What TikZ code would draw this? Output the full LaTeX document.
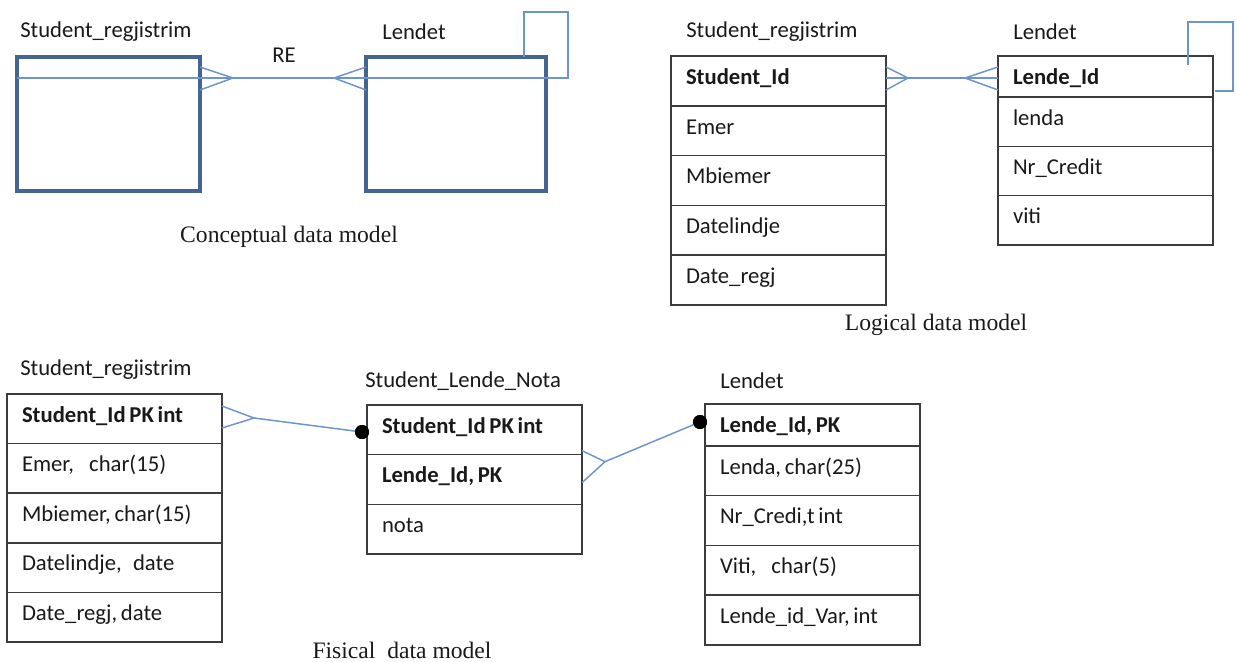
\documentclass[tikz,border=0pt]{standalone}
\usepackage{fontspec}
\setmainfont{Liberation Serif}
\newfontfamily\calibri{Carlito}
\usetikzlibrary{calc}
\definecolor{cbox}{RGB}{68,100,146}
\definecolor{conncol}{RGB}{108,148,205}
\definecolor{tline}{RGB}{60,60,60}
\definecolor{txt}{RGB}{25,25,25}
\begin{document}
\begin{tikzpicture}[x=0.75pt,y=-0.75pt,
  sans/.style={font=\calibri\fontsize{17}{20}\selectfont, text=txt},
  title/.style={sans, anchor=west, inner sep=0pt},
  caption/.style={font=\fontsize{17.7}{20}\selectfont, text=txt, inner sep=0pt},
  cbx/.style={draw=cbox, line width=3pt, anchor=north west, inner sep=0pt, outer sep=0pt},
  row/.style={sans, draw=tline, line width=1.1pt, anchor=north west, outer sep=0pt,
    text width=138.75pt, inner xsep=11.25pt, inner ysep=0pt, align=left,
    text height=12pt, text depth=7pt},
  shortrow/.style={row, text height=14pt, text depth=2.3pt},
  conn/.style={draw=conncol, line width=1.1pt, line join=miter},
  dot/.style={circle, fill=black, inner sep=0pt, minimum size=10.5pt}
]
\useasboundingbox (0,0) rectangle (1237,661);

% ---------- Conceptual ----------
\node[title] (ctsr) at (20,32) {Student\_regjistrim};
\node[title] (ctl) at (382,32) {Lendet};
\node[cbx, minimum width=137.25pt, minimum height=100.5pt] (cs) at (17,57) {};
\node[cbx, minimum width=135pt, minimum height=100.5pt] (cl) at (366,57) {};
\node[sans, inner sep=0pt] (re) at (284,55) {RE};
\draw[conn] ($(cs.north west)+(0,21)$) -- ($(cl.north east)+(22,21)$)
  -- ($(cl.north east)+(22,-45)$) -- ($(cl.north east)+(-22,-45)$)
  -- ($(cl.north east)+(-22,0)$);
\draw[conn] ($(cs.north east)+(0,10)$) -- ($(cs.north east)+(33,21)$) -- ($(cs.north east)+(0,33)$);
\draw[conn] ($(cl.north west)+(0,10)$) -- ($(cl.north west)+(-32,21)$) -- ($(cl.north west)+(0,33)$);
\node[caption] (capc) at (289,237) {Conceptual data model};

% ---------- Logical ----------
\node[title] (ltsr) at (686,32) {Student\_regjistrim};
\node[title] (ltl) at (1013,32) {Lendet};
\node[row, minimum height=37.35pt] (lsid) at (671,56) {\textbf{Student\_Id}};
\node[row, minimum height=37.35pt] (lsem) at (lsid.south west) {Emer};
\node[row, minimum height=37.35pt] (lsmb) at (lsem.south west) {Mbiemer};
\node[row, minimum height=37.35pt] (lsdl) at (lsmb.south west) {Datelindje};
\node[row, minimum height=37.35pt] (lsdr) at (lsdl.south west) {Date\_regj};
\node[shortrow, minimum height=30.75pt] (llid) at (998,56) {\textbf{Lende\_Id}};
\node[row, minimum height=37pt] (llle) at (llid.south west) {lenda};
\node[row, minimum height=37pt] (llnc) at (llle.south west) {Nr\_Credit};
\node[row, minimum height=37pt] (llvi) at (llnc.south west) {viti};
\draw[conn] ($(lsid.north east)+(0,22)$) -- ($(llid.north west)+(0,22)$);
\draw[conn] ($(lsid.north east)+(0,11)$) -- ($(lsid.north east)+(22,22)$) -- ($(lsid.north east)+(0,34)$);
\draw[conn] ($(llid.north west)+(0,11)$) -- ($(llid.north west)+(-33,22)$) -- ($(llid.north west)+(0,34)$);
\draw[conn] ($(llid.north east)+(-25,9)$) -- ($(llid.north east)+(-25,-34)$)
  -- ($(llid.north east)+(20,-34)$) -- ($(llid.north east)+(20,35)$)
  -- ($(llid.north east)+(2,35)$);
\node[caption] (capl) at (936,325) {Logical data model};

% ---------- Fisical ----------
\node[title] (ftsr) at (20,370) {Student\_regjistrim};
\node[title] (ftsn) at (365,381) {Student\_Lende\_Nota};
\node[title] (ftl) at (720,381) {Lendet};
\node[row, minimum height=37.2pt] (fsid) at (7,394) {\textbf{Student\_Id\,PK\,int}};
\node[row, minimum height=37.2pt] (fsem) at (fsid.south west) {Emer,\ \ char(15)};
\node[row, minimum height=37.2pt] (fsmb) at (fsem.south west) {Mbiemer,\,char(15)};
\node[row, minimum height=37.2pt] (fsdl) at (fsmb.south west) {Datelindje,\ \,date};
\node[row, minimum height=37.2pt] (fsdr) at (fsdl.south west) {Date\_regj,\,date};
\node[row, minimum height=37.25pt] (snid) at (367,405) {\textbf{Student\_Id\,PK\,int}};
\node[row, minimum height=37.25pt] (snlid) at (snid.south west) {\textbf{Lende\_Id,\,PK}};
\node[row, minimum height=37.25pt] (snno) at (snlid.south west) {nota};
\node[shortrow, minimum height=31.5pt] (flid) at (705,404) {\textbf{Lende\_Id,\,PK}};
\node[row, minimum height=37.3pt] (flle) at (flid.south west) {Lenda,\,char(25)};
\node[row, minimum height=37.3pt] (flnc) at (flle.south west) {Nr\_Credi,t\,int};
\node[row, minimum height=37.3pt] (flvi) at (flnc.south west) {Viti,\ \ char(5)};
\node[row, minimum height=37.3pt] (flvar) at (flvi.south west) {Lende\_id\_Var,\,int};
% connector 1
\coordinate (t1) at ($(fsid.north east)+(32,24)$);
\node[dot] (d1) at ($(snid.north west)+(-5,27)$) {};
\draw[conn] ($(fsid.north east)+(0,12)$) -- (t1) -- ($(fsid.north east)+(0,34)$);
\draw[conn] (t1) -- (d1.center);
% connector 2
\coordinate (t2) at ($(snlid.north east)+(23,7)$);
\node[dot] (d2) at ($(flid.north west)+(-5,18)$) {};
\draw[conn] ($(snlid.north east)+(0,-4)$) -- (t2) -- ($(snlid.north east)+(0,28)$);
\draw[conn] (t2) -- (d2.center);
\node[dot] at (d1) {};
\node[dot] at (d2) {};
\node[caption] (capf) at (402,650) {Fisical\ \ data model};
\end{tikzpicture}
\end{document}
